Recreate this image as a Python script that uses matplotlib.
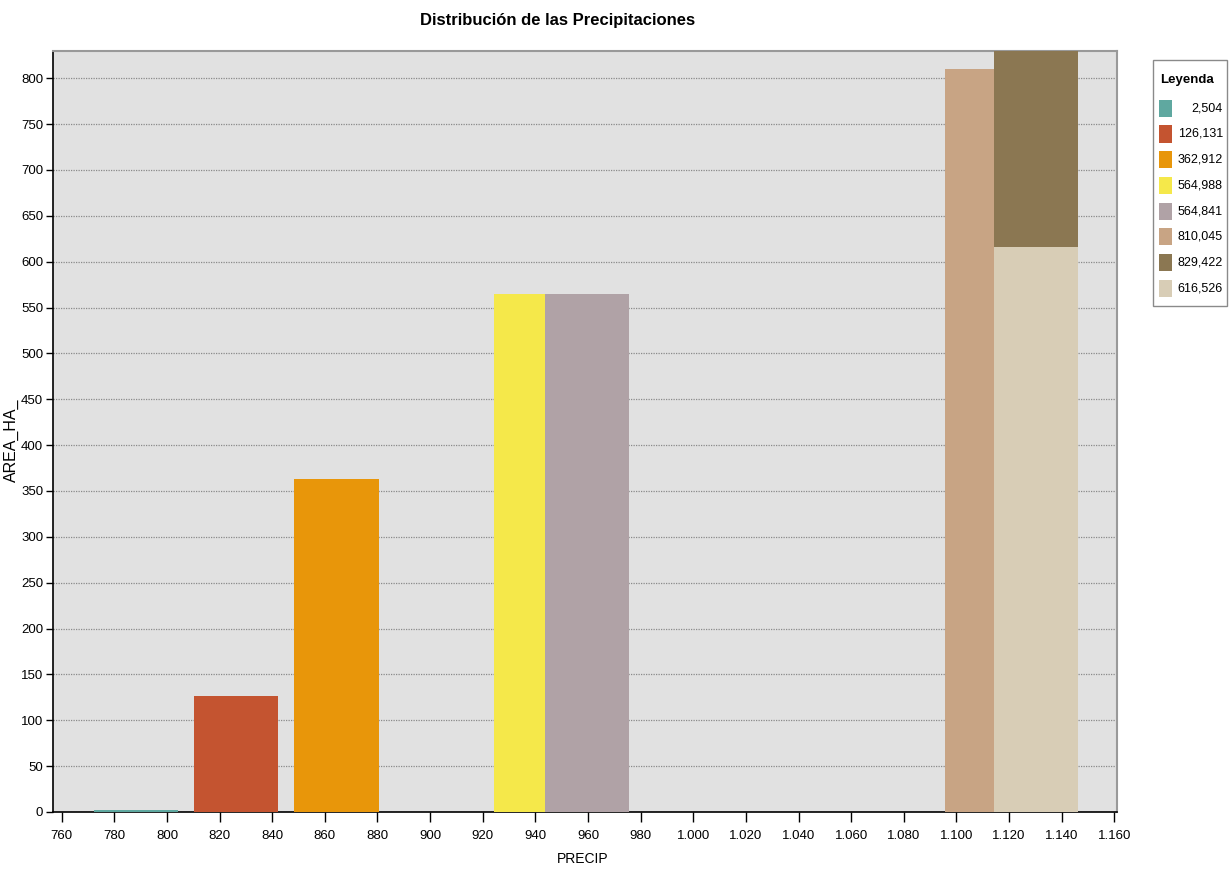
import matplotlib
matplotlib.use("Agg")
import matplotlib.pyplot as plt
from matplotlib.patches import Rectangle
from matplotlib.ticker import FuncFormatter

# Intervalos de precipitación (inicio y fin de cada barra) y área correspondiente
precip_start = [772.3, 810.2, 848.2, 924.4, 943.5, 1095.7, 1114.4, 1114.4]
precip_end = [804.1, 842.3, 880.4, 943.5, 975.6, 1114.4, 1146.3, 1146.3]
area_ha = [2.504, 126.131, 362.912, 564.988, 564.841, 810.045, 829.422, 616.526]
bar_colors = ['#5fa8a0', '#c45430', '#e8960a', '#f5e84a',
              '#b0a2a6', '#c8a484', '#8b7752', '#d8cdb6']

x_ticks = list(range(760, 1161, 20))
y_ticks = list(range(0, 801, 50))

plt.rcParams['font.family'] = ['Liberation Sans', 'DejaVu Sans']

W, H = 1231, 873
fig = plt.figure(figsize=(W / 100, H / 100), dpi=100)
fig.patch.set_facecolor('white')


def fx(px):
    return px / W


def fy(py):
    return 1 - py / H


ax = fig.add_axes([fx(53), fy(812), fx(1117) - fx(53), fy(50.7) - fy(812)])
ax.set_facecolor('#e1e1e1')

for x0, x1, a, c in zip(precip_start, precip_end, area_ha, bar_colors):
    ax.bar(x0, a, width=x1 - x0, align='edge', color=c, edgecolor='none', zorder=3)

ax.set_xlim(756.7, 1161)
ax.set_ylim(0, 830)
ax.set_xticks(x_ticks)
ax.set_yticks(y_ticks)
ax.xaxis.set_major_formatter(FuncFormatter(lambda v, p: f"{int(round(v)):,}".replace(',', '.')))
ax.yaxis.set_major_formatter(FuncFormatter(lambda v, p: f"{int(round(v))}"))
ax.tick_params(axis='x', length=7, width=1, labelsize=9.5, pad=6)
ax.tick_params(axis='y', length=5, width=1, labelsize=9.5, pad=2)
ax.yaxis.grid(True, color='#8a8a8a', linestyle=(0, (1, 1)), linewidth=0.9, zorder=1)
ax.set_axisbelow(True)

for side in ('top', 'right'):
    ax.spines[side].set_color('#999999')
    ax.spines[side].set_linewidth(1.5)
for side in ('left', 'bottom'):
    ax.spines[side].set_color('black')
    ax.spines[side].set_linewidth(1.2)

fig.text(fx(558), fy(20), 'Distribución de las Precipitaciones', ha='center', va='center',
         fontsize=12, fontweight='bold')
fig.text(fx(583), fy(859), 'PRECIP', ha='center', va='center', fontsize=10)
fig.text(fx(11), fy(440), 'AREA_HA_', ha='center', va='center', rotation=90, fontsize=11.5)

# Leyenda dibujada a mano: cuadro, título y entradas alineadas a la derecha
lx0, ly0, lx1, ly1 = 1153, 60, 1227, 306
fig.patches.append(Rectangle((fx(lx0), fy(ly1)), fx(lx1) - fx(lx0), fy(ly0) - fy(ly1),
                             transform=fig.transFigure, facecolor='white',
                             edgecolor='#8a8a8a', linewidth=1.0))
fig.text(fx(1160), fy(80), 'Leyenda', ha='left', va='center', fontsize=9.5, fontweight='bold')
for i, (a, c) in enumerate(zip(area_ha, bar_colors)):
    yc = 108.3 + i * 25.7
    fig.patches.append(Rectangle((fx(1159), fy(yc + 8.5)), fx(13), 17 / H,
                                 transform=fig.transFigure, facecolor=c, edgecolor='none'))
    fig.text(fx(1223), fy(yc), f"{a:.3f}".replace('.', ','), ha='right', va='center',
             fontsize=9)

fig.savefig('out.png', dpi=100)
